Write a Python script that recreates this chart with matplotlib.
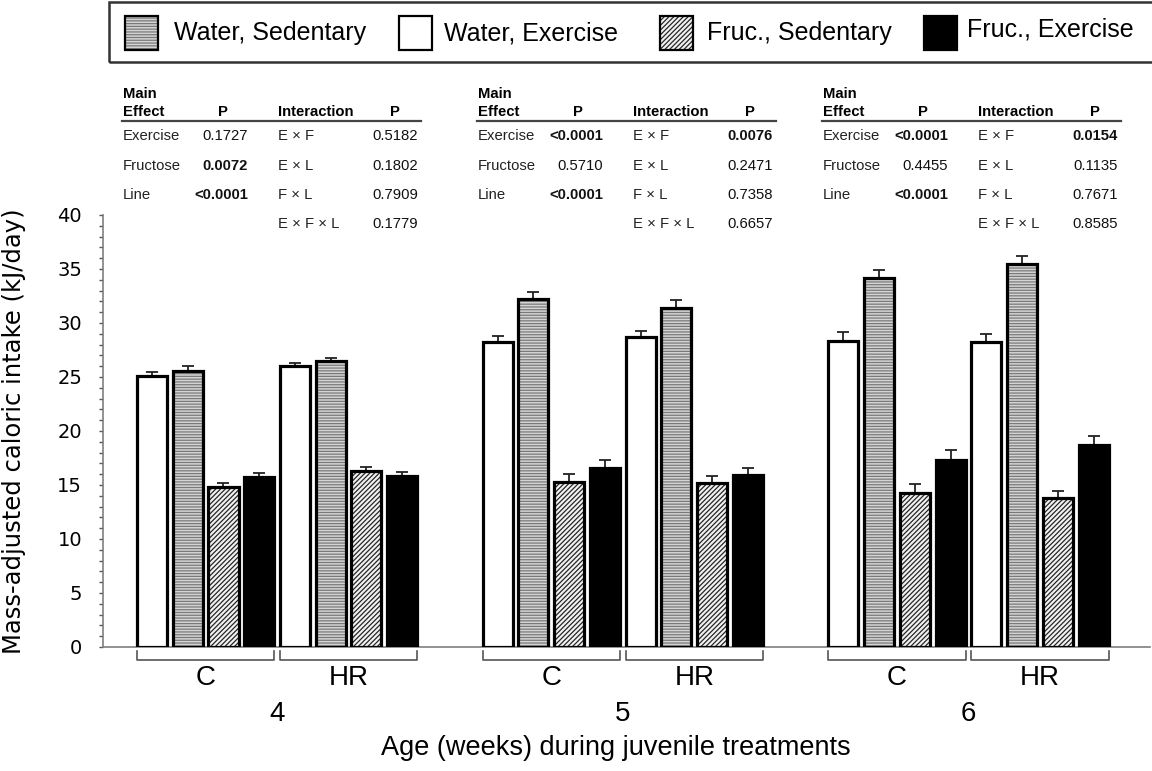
import numpy as np
import matplotlib.pyplot as plt
from matplotlib.patches import Rectangle
from matplotlib.transforms import blended_transform_factory

# ---- data ----
weeks = ["4", "5", "6"]
lines = ["C", "HR"]
groups = ["Water, Exercise", "Water, Sedentary", "Fruc., Sedentary", "Fruc., Exercise"]

# mean values, per week, per line, in group order above
means_4 = [[25.1, 25.6, 14.8, 15.7], [26.0, 26.5, 16.3, 15.8]]
means_5 = [[28.2, 32.2, 15.3, 16.6], [28.7, 31.4, 15.2, 15.9]]
means_6 = [[28.3, 34.2, 14.3, 17.3], [28.2, 35.5, 13.8, 18.7]]
sem_4 = [[0.4, 0.4, 0.4, 0.4], [0.3, 0.3, 0.4, 0.4]]
sem_5 = [[0.6, 0.7, 0.7, 0.7], [0.6, 0.7, 0.6, 0.7]]
sem_6 = [[0.9, 0.7, 0.8, 0.9], [0.8, 0.7, 0.6, 0.8]]

legend_labels = ["Water, Sedentary", "Water, Exercise", "Fruc., Sedentary", "Fruc., Exercise"]

main_effects = ["Exercise", "Fructose", "Line"]
main_p_4 = ["0.1727", "0.0072", "<0.0001"]
main_p_5 = ["<0.0001", "0.5710", "<0.0001"]
main_p_6 = ["<0.0001", "0.4455", "<0.0001"]
main_bold_4 = [False, True, True]
main_bold_5 = [True, False, True]
main_bold_6 = [True, False, True]
interactions = ["E \u00d7 F", "E \u00d7 L", "F \u00d7 L", "E \u00d7 F \u00d7 L"]
inter_p_4 = ["0.5182", "0.1802", "0.7909", "0.1779"]
inter_p_5 = ["0.0076", "0.2471", "0.7358", "0.6657"]
inter_p_6 = ["0.0154", "0.1135", "0.7671", "0.8585"]
inter_bold_4 = [False, False, False, False]
inter_bold_5 = [True, False, False, False]
inter_bold_6 = [True, False, False, False]

means = [means_4, means_5, means_6]
sems = [sem_4, sem_5, sem_6]
main_p = [main_p_4, main_p_5, main_p_6]
main_bold = [main_bold_4, main_bold_5, main_bold_6]
inter_p = [inter_p_4, inter_p_5, inter_p_6]
inter_bold = [inter_bold_4, inter_bold_5, inter_bold_6]

# ---- styles ----
styles = {
    "Water, Exercise": dict(fc="white", hatch=None, hc="white"),
    "Water, Sedentary": dict(fc="#d4d4d4", hatch="------", hc="#7a7a7a"),
    "Fruc., Sedentary": dict(fc="#f2f2f2", hatch="///////", hc="#262626"),
    "Fruc., Exercise": dict(fc="black", hatch=None, hc="black"),
}
plt.rcParams["hatch.linewidth"] = 0.9
sans = ["Liberation Sans", "DejaVu Sans"]

W, H = 1152, 771
fig = plt.figure(figsize=(W / 100, H / 100), dpi=100)
ax = fig.add_axes([103 / W, 1 - 647 / H, (1150 - 103) / W, 432 / H])

week_step = 9.67
bar_w = 0.84

def fx(px):
    return px / W

def fy(py):
    return 1 - py / H

for wi in range(len(weeks)):
    for li in range(len(lines)):
        base = wi * week_step + li * 4
        x = base + np.arange(len(groups))
        for gi, g in enumerate(groups):
            st = styles[g]
            v = means[wi][li][gi]
            ax.bar(x[gi], v, width=bar_w, color=st["fc"], hatch=st["hatch"],
                   edgecolor=st["hc"], linewidth=0, zorder=2)
            ax.bar(x[gi], v, width=bar_w, fill=False, edgecolor="black",
                   linewidth=2.3, zorder=3)
        ax.errorbar(x, means[wi][li], yerr=[np.zeros(4), sems[wi][li]], fmt="none",
                    ecolor="#222222", elinewidth=1.3, capsize=4, capthick=1.3, zorder=1)

ax.set_ylim(0, 40)
ax.set_xlim(-1.371, 27.92)
ax.set_yticks(np.arange(0, 41, 5))
ax.set_yticks(np.arange(0, 41, 1), minor=True)
ax.set_xticks([])
for s in ["top", "right"]:
    ax.spines[s].set_visible(False)
for s in ["left", "bottom"]:
    ax.spines[s].set_color("#7f7f7f")
    ax.spines[s].set_linewidth(1.2)
ax.tick_params(axis="y", which="both", direction="out", length=3, width=1,
               color="#555555", labelsize=14, pad=12)
ax.set_ylabel("Mass-adjusted caloric intake (kJ/day)", fontsize=17.5, family="DejaVu Sans")
ax.yaxis.set_label_coords(-0.074, 0.5)

# brackets and category labels under the axis
tr = blended_transform_factory(ax.transData, ax.transAxes)
for wi, wk in enumerate(weeks):
    for li, ln in enumerate(lines):
        base = wi * week_step + li * 4
        x0, x1 = base - bar_w / 2, base + 3 + bar_w / 2
        ax.plot([x0, x0, x1, x1], [-0.009, -0.030, -0.030, -0.009], transform=tr,
                color="#555555", lw=1.2, clip_on=False)
        ax.text(base + 1.5, -0.072, ln, transform=tr, ha="center", va="center",
                fontsize=20, family=sans)
    ax.text(wi * week_step + 3.5, -0.155, wk, transform=tr, ha="center", va="center",
            fontsize=20, family=sans)
ax.text(0.49, -0.234, "Age (weeks) during juvenile treatments", transform=ax.transAxes,
        ha="center", va="center", fontsize=19.5, family=sans)

# ---- stats tables ----
table_left = [123, 478, 823]
tfs = 10.7
for ti, left in enumerate(table_left):
    fig.text(fx(left), fy(94), "Main", fontsize=tfs, weight="bold", family=sans, va="center")
    fig.text(fx(left), fy(112), "Effect", fontsize=tfs, weight="bold", family=sans, va="center")
    fig.text(fx(left + 100), fy(112), "P", fontsize=tfs, weight="bold", family=sans,
             va="center", ha="center")
    fig.text(fx(left + 155), fy(112), "Interaction", fontsize=tfs, weight="bold", family=sans,
             va="center")
    fig.text(fx(left + 272), fy(112), "P", fontsize=tfs, weight="bold", family=sans,
             va="center", ha="center")
    fig.add_artist(plt.Line2D([fx(left - 1), fx(left + 298)], [fy(121), fy(121)],
                              color="#444444", lw=1.6))
    row_y = [136, 166, 195, 224]
    for ri, name in enumerate(main_effects):
        fig.text(fx(left), fy(row_y[ri]), name, fontsize=tfs, family=sans, va="center",
                 color="#222222")
        fig.text(fx(left + 125), fy(row_y[ri]), main_p[ti][ri], fontsize=tfs, family=sans,
                 va="center", ha="right", color="#111111",
                 weight="bold" if main_bold[ti][ri] else "normal")
    for ri, name in enumerate(interactions):
        fig.text(fx(left + 155), fy(row_y[ri]), name, fontsize=tfs, family=sans, va="center",
                 color="#222222")
        fig.text(fx(left + 295), fy(row_y[ri]), inter_p[ti][ri], fontsize=tfs, family=sans,
                 va="center", ha="right", color="#111111",
                 weight="bold" if inter_bold[ti][ri] else "normal")

# ---- legend (drawn by hand, box runs off the right edge) ----
fig.add_artist(Rectangle((fx(109), fy(62)), fx(1200 - 109), 60 / H, transform=fig.transFigure,
                         fill=False, edgecolor="#333333", lw=1.8, clip_on=False))
patch_x = [125, 399, 660, 924]
text_x = [174, 444, 707, 967]
text_y = [33, 33, 33, 30]
for lab, px, tx, ty in zip(legend_labels, patch_x, text_x, text_y):
    st = styles[lab]
    fig.add_artist(Rectangle((fx(px), fy(50)), 33 / W, 34 / H, transform=fig.transFigure,
                             facecolor=st["fc"], hatch=st["hatch"], edgecolor=st["hc"], lw=0))
    fig.add_artist(Rectangle((fx(px), fy(50)), 33 / W, 34 / H, transform=fig.transFigure,
                             fill=False, edgecolor="black", lw=1.6))
    fig.text(fx(tx), fy(ty), lab, fontsize=18, family=sans, va="center")

fig.savefig("out.png", dpi=100)
